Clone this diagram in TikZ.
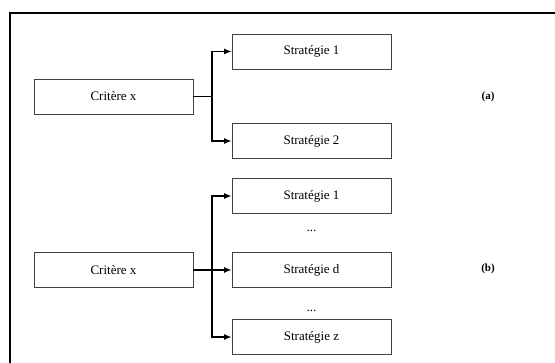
\documentclass[tikz,border=0pt]{standalone}
\usepackage{fontspec}
\setmainfont{Liberation Serif}
\usetikzlibrary{arrows.meta}
\begin{document}
\begin{tikzpicture}[x=1pt,y=-1pt,
  box/.style={draw=black!75,line width=0.8pt,minimum width=159pt,minimum height=35pt,inner sep=0pt,font=\fontsize{13}{15}\selectfont},
  conn/.style={line width=1.2pt,-{Latex[length=7.5pt,width=6pt]}},
  tag/.style={font=\fontsize{11}{13}\selectfont\bfseries},
  dots/.style={font=\fontsize{13}{15}\selectfont}]
\useasboundingbox (0,0) rectangle (555,363);
\draw[line width=2pt] (10,363) -- (10,13) -- (555,13);
% (a)
\node[box] (ca) at (113.5,96.5) {Critère x};
\node[box] (a1) at (311.5,51.5) {Stratégie 1};
\node[box] (a2) at (311.5,141) {Stratégie 2};
\coordinate (ja) at (212,96.5);
\draw[conn] (ca.east) -- (ja) |- (a1.west);
\draw[conn] (ja) |- (a2.west);
\node[tag] (la) at (488,97) {(a)};
% (b)
\node[box] (cb) at (113.5,270) {Critère x};
\node[box] (b1) at (311.5,196) {Stratégie 1};
\node[box] (bd) at (311.5,270) {Stratégie d};
\node[box] (bz) at (311.5,337) {Stratégie z};
\node[dots] (d1) at (311.5,231) {...};
\node[dots] (d2) at (311.5,311) {...};
\coordinate (jb) at (212,270);
\draw[conn] (cb.east) -- (bd.west);
\draw[conn] (jb) |- (b1.west);
\draw[conn] (jb) |- (bz.west);
\node[tag] (lb) at (488,269) {(b)};
\end{tikzpicture}
\end{document}
